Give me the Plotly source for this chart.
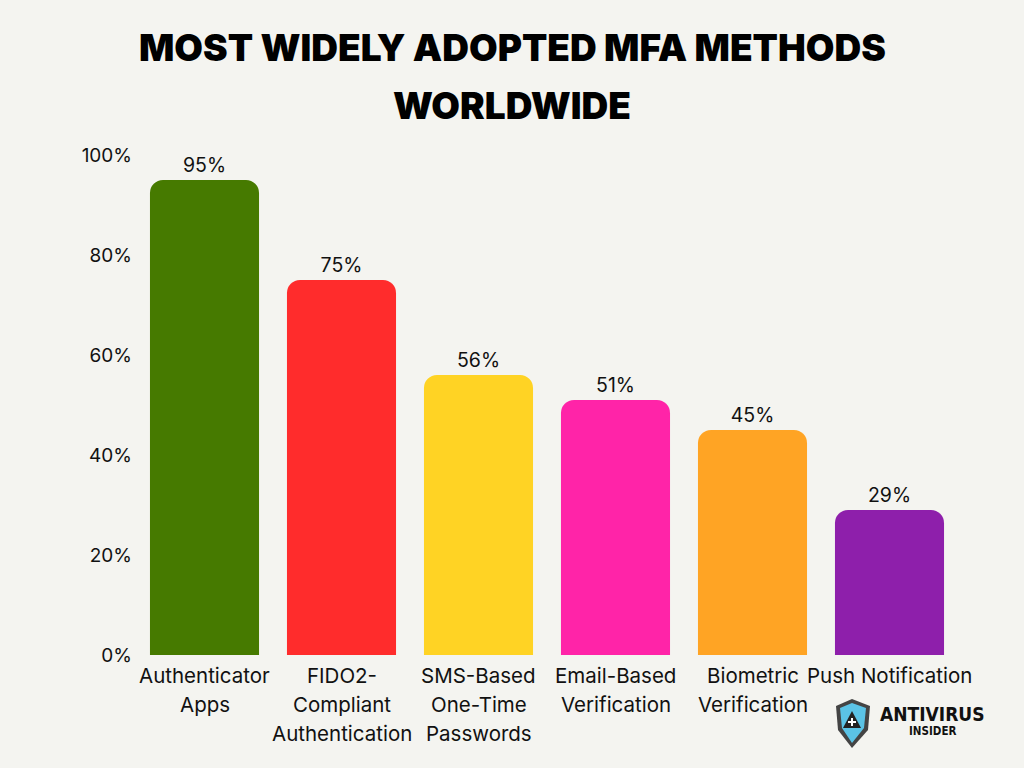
import plotly.graph_objects as go

categories = ["Authenticator Apps", "FIDO2-Compliant Authentication", "SMS-Based One-Time Passwords",
              "Email-Based Verification", "Biometric Verification", "Push Notification"]
label_lines = [["Authenticator", "Apps"], ["FIDO2-", "Compliant", "Authentication"],
               ["SMS-Based", "One-Time", "Passwords"], ["Email-Based", "Verification"],
               ["Biometric", "Verification"], ["Push Notification"]]
values = [95, 75, 56, 51, 45, 29]
colors = ["#467A00", "#FF2C2C", "#FFD324", "#FF24A8", "#FFA424", "#8E1FAB"]
y_ticks = [0, 20, 40, 60, 80, 100]
y_tick_labels = ["0%", "20%", "40%", "60%", "80%", "100%"]
title_lines = ["MOST WIDELY ADOPTED MFA METHODS", "WORLDWIDE"]

BG = "#F4F4F0"
L, R, T, B = 136, 66, 155, 113
W, H = 1024, 768
PW, PH = W - L - R, H - T - B

def px(x):
    return (x - L) / PW

def py(y):
    return (H - B - y) / PH

fig = go.Figure(go.Bar(
    x=categories, y=values, marker=dict(color=colors, line=dict(width=0)),
    text=[f"{v}%" for v in values], texttemplate="%{text}", textposition="outside", cliponaxis=False,
    textfont=dict(family="Inter", size=19.5, color="#111111"),
))

annotations = []
for cat, lines in zip(categories, label_lines):
    for i, ln in enumerate(lines):
        annotations.append(dict(x=cat, y=0, xref="x", yref="y", text=ln, showarrow=False,
                                yanchor="top", yshift=-6 - 29 * i,
                                font=dict(family="Inter", size=20.5, color="#111111")))

for i, t in enumerate(title_lines):
    annotations.append(dict(x=px(512), y=1, xref="paper", yref="paper", text=t, showarrow=False,
                            xanchor="center", yanchor="middle", yshift=(155 - 47) - 58 * i,
                            font=dict(family="Inter", size=37, color="#000000", weight=900)))

# logo
annotations.append(dict(x=px(932), y=py(714), xref="paper", yref="paper", text="<b>ANTIVIRUS</b>",
                        showarrow=False, xanchor="center", yanchor="middle",
                        font=dict(family="DejaVu Sans Condensed", size=19, color="#111111")))
annotations.append(dict(x=px(932), y=py(731), xref="paper", yref="paper", text="<b>INSIDER</b>",
                        showarrow=False, xanchor="center", yanchor="middle",
                        font=dict(family="DejaVu Sans Condensed", size=11.5, color="#111111")))

def path(pts):
    return "M " + " L ".join(f"{px(a):.5f},{py(b):.5f}" for a, b in pts) + " Z"

shapes = [
    dict(type="path", xref="paper", yref="paper",
         path=path([(836, 706), (852, 699), (870, 706), (868, 730), (852, 748), (838, 730)]),
         fillcolor="#444444", line=dict(width=0)),
    dict(type="path", xref="paper", yref="paper",
         path=path([(840, 708), (852, 703), (866, 708), (864, 728), (852, 743), (842, 728)]),
         fillcolor="#5BC3E6", line=dict(width=0)),
    dict(type="path", xref="paper", yref="paper",
         path=path([(852, 711), (861, 728), (843, 728)]),
         fillcolor="#222222", line=dict(width=0)),
    dict(type="path", xref="paper", yref="paper",
         path=path([(851, 718), (853, 718), (853, 721), (856, 721), (856, 723), (853, 723),
                    (853, 726), (851, 726), (851, 723), (848, 723), (848, 721), (851, 721)]),
         fillcolor="#FFFFFF", line=dict(width=0)),
]

fig.update_layout(
    width=W, height=H, margin=dict(l=L, r=R, t=T, b=B, autoexpand=False),
    paper_bgcolor=BG, plot_bgcolor=BG,
    bargap=0.204, barcornerradius=13, showlegend=False,
    annotations=annotations, shapes=shapes,
    xaxis=dict(range=[-0.5, len(categories) - 0.5], showticklabels=False, showgrid=False,
               zeroline=False, showline=False, ticks="", automargin=False),
    yaxis=dict(range=[0, 100], tickvals=y_ticks, ticktext=y_tick_labels, showgrid=False, zeroline=False,
               showline=False, ticks="", ticklabelstandoff=3, automargin=False,
               tickfont=dict(family="Inter", size=19, color="#111111")),
)

fig.write_html("out.html")
